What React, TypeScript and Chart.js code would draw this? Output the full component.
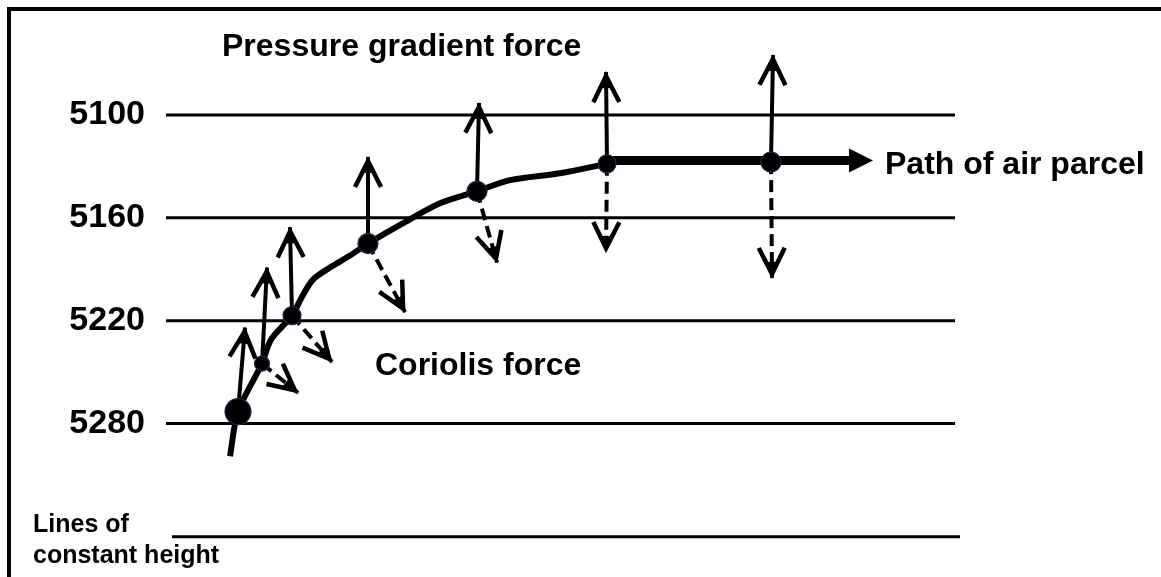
import React, { useEffect, useRef } from 'react';
import { Chart, registerables } from 'chart.js';

Chart.register(...registerables);

// ---- data (x: along-flow distance in diagram units, y: geopotential height in m) ----
const heightLevels = [5100, 5160, 5220, 5280];
const contourX = [166, 955];
const sampleLineX = [172, 960];
const sampleLineH = [5346, 5346];

// path of the air parcel (curved part)
const pathX = [230, 238, 262, 271, 292, 302, 313, 330, 350, 368, 405, 440, 477, 510, 560, 607];
const pathH = [5299, 5273, 5245, 5231, 5217, 5206, 5196, 5189, 5182, 5175, 5162.5, 5151.5, 5144.5, 5138, 5134, 5128.5];

// straight (geostrophic) part of the path, ending in an arrow
const pathArrowX = [607, 852];
const pathArrowH = [5126.5, 5126.5];
const pathArrowTipX = 873;

// positions of the parcel
const parcelX = [238, 262, 292, 368, 477, 607, 771];
const parcelH = [5273, 5245, 5217, 5175, 5144.5, 5128.5, 5127.5];

// pressure gradient force arrow tips (one per parcel position)
const pgfTipX = [245, 267, 290, 368, 479, 606, 773];
const pgfTipH = [5224, 5189, 5165.5, 5124.5, 5093, 5075, 5065];

// Coriolis force arrows (from parcel index -> tip)
const corFrom = [1, 2, 3, 4, 5, 6];
const corTipX = [298, 332, 405, 497, 606, 772];
const corTipH = [5262, 5244, 5215, 5186, 5180, 5195];

// ---- axis range / styles ----
const Y_MIN = 5033.3;
const Y_MAX = 5369.1;
const DOT_RADII = [13, 7.5, 9, 10, 10, 9, 10];
const FONT = '"Liberation Sans", Arial, Helvetica, sans-serif';

function drawHead(ctx: CanvasRenderingContext2D, x0: number, y0: number, x1: number, y1: number) {
  const a = Math.atan2(y1 - y0, x1 - x0);
  const c = Math.cos(a);
  const s = Math.sin(a);
  const ax = x1 - 4 * c;
  const ay = y1 - 4 * s;
  const L = 26;
  const H = 13;
  const bx = ax - L * c;
  const by = ay - L * s;
  ctx.beginPath();
  ctx.moveTo(bx - H * s, by + H * c);
  ctx.lineTo(ax, ay);
  ctx.lineTo(bx + H * s, by - H * c);
  ctx.lineWidth = 4.5;
  ctx.lineJoin = 'miter';
  ctx.miterLimit = 10;
  ctx.setLineDash([]);
  ctx.stroke();
  // small solid core near the tip
  ctx.beginPath();
  ctx.moveTo(ax, ay);
  ctx.lineTo(ax - 12 * c - 5 * s, ay - 12 * s + 5 * c);
  ctx.lineTo(ax - 12 * c + 5 * s, ay - 12 * s - 5 * c);
  ctx.closePath();
  ctx.fill();
}

const diagramPlugin = {
  id: 'diagram',
  afterDatasetsDraw(chart: any) {
    const { ctx } = chart;
    const xs = chart.scales.x;
    const ys = chart.scales.y;
    ctx.save();
    ctx.strokeStyle = '#000';
    ctx.fillStyle = '#000';
    pgfTipX.forEach((tx, i) => {
      drawHead(
        ctx,
        xs.getPixelForValue(parcelX[i]),
        ys.getPixelForValue(parcelH[i]),
        xs.getPixelForValue(tx),
        ys.getPixelForValue(pgfTipH[i])
      );
    });
    corFrom.forEach((pi, k) => {
      drawHead(
        ctx,
        xs.getPixelForValue(parcelX[pi]),
        ys.getPixelForValue(parcelH[pi]),
        xs.getPixelForValue(corTipX[k]),
        ys.getPixelForValue(corTipH[k])
      );
    });
    const py = ys.getPixelForValue(pathArrowH[1]);
    const tx = xs.getPixelForValue(pathArrowTipX);
    ctx.beginPath();
    ctx.moveTo(tx, py);
    ctx.lineTo(tx - 24, py - 12);
    ctx.lineTo(tx - 24, py + 12);
    ctx.closePath();
    ctx.fill();
    ctx.restore();
  },
  afterDraw(chart: any) {
    const { ctx } = chart;
    ctx.save();
    ctx.fillStyle = '#000';
    // frame (cropped: top and left edges)
    ctx.fillRect(7, 7, chart.width - 7, 4);
    ctx.fillRect(7, 7, 4, chart.height - 7);
    ctx.textBaseline = 'alphabetic';
    ctx.textAlign = 'left';
    ctx.font = `bold 32px ${FONT}`;
    ctx.fillText('Pressure gradient force', 222, 56);
    ctx.fillText('Coriolis force', 375, 375);
    ctx.fillText('Path of air parcel', 885, 174);
    ctx.font = `bold 25px ${FONT}`;
    ctx.fillText('Lines of', 33, 532);
    ctx.fillText('constant height', 33, 563);
    ctx.restore();
  },
};

const pts = (xa: number[], ya: number[]) => xa.map((x, i) => ({ x, y: ya[i] }));

export default function App() {
  const ref = useRef<HTMLCanvasElement | null>(null);

  useEffect(() => {
    document.body.style.margin = '0';
    const canvas = ref.current;
    if (!canvas) return;

    const line = (data: any[], extra: any = {}) => ({
      data,
      showLine: true,
      pointRadius: 0,
      borderColor: '#000',
      backgroundColor: '#000',
      borderWidth: 3,
      borderCapStyle: 'butt',
      tension: 0,
      ...extra,
    });

    const datasets: any[] = [];
    // parcel dots (first = drawn on top)
    datasets.push({
      data: pts(parcelX, parcelH),
      showLine: false,
      pointRadius: DOT_RADII,
      pointBackgroundColor: '#000',
      pointBorderColor: '#1b2a4a',
      pointBorderWidth: 1.2,
    });
    datasets.push(line(pts(pathArrowX, pathArrowH), { borderWidth: 9 }));
    datasets.push(line(pts(pathX, pathH), { borderWidth: 6, tension: 0.3, borderJoinStyle: 'round' }));
    pgfTipX.forEach((tx, i) => {
      datasets.push(line([{ x: parcelX[i], y: parcelH[i] }, { x: tx, y: pgfTipH[i] }], { borderWidth: 4 }));
    });
    corFrom.forEach((pi, k) => {
      datasets.push(
        line([{ x: parcelX[pi], y: parcelH[pi] }, { x: corTipX[k], y: corTipH[k] }], {
          borderWidth: 4,
          borderDash: [12, 6],
        })
      );
    });
    heightLevels.forEach((h) => {
      datasets.push(line(pts(contourX, [h, h]), { borderWidth: 3 }));
    });
    datasets.push(line(pts(sampleLineX, sampleLineH), { borderWidth: 3 }));

    const chart = new Chart(canvas, {
      type: 'scatter',
      data: { datasets },
      options: {
        responsive: false,
        animation: false,
        events: [],
        layout: { padding: 0, autoPadding: false },
        plugins: { legend: { display: false }, tooltip: { enabled: false } },
        scales: {
          x: { type: 'linear', display: false, min: 145, max: 1161 },
          y: {
            type: 'linear',
            position: 'left',
            reverse: true,
            min: Y_MIN,
            max: Y_MAX,
            grid: { display: false, drawTicks: false },
            border: { display: false },
            afterBuildTicks: (scale: any) => {
              scale.ticks = [Y_MIN, ...heightLevels, Y_MAX].map((v) => ({ value: v }));
            },
            afterFit: (scale: any) => {
              scale.width = 145;
            },
            ticks: {
              padding: 0,
              autoSkip: false,
              color: '#000',
              callback: (v: any) => (heightLevels.includes(v) ? String(v) : ''),
              font: (c: any) =>
                c.tick && heightLevels.includes(c.tick.value)
                  ? { family: FONT, size: 34, weight: 'bold' }
                  : { family: FONT, size: 1 },
            },
          },
        },
      } as any,
      plugins: [diagramPlugin],
    });
    return () => chart.destroy();
  }, []);

  return (
    <div style={{ width: 1161, height: 577 }}>
      <canvas ref={ref} width={1161} height={577} style={{ display: 'block' }} />
    </div>
  );
}
